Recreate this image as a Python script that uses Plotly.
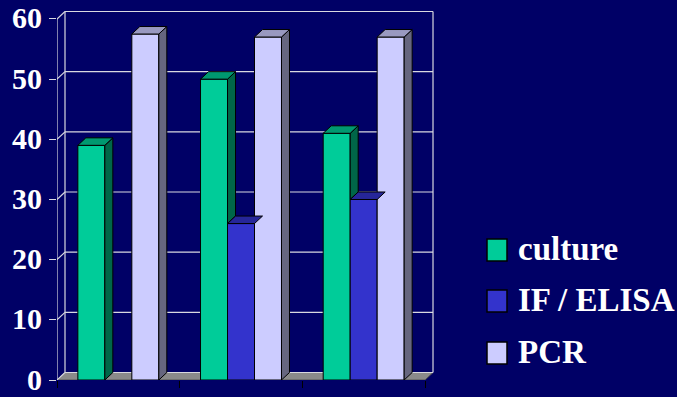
import plotly.graph_objects as go

# ---- data ----
groups = ["A", "B", "C"]
series_names = ["culture", "IF / ELISA", "PCR"]
culture = [39, 50, 41]
if_elisa = [None, 26, 30]
pcr = [57.5, 57, 57]
y_ticks = [0, 10, 20, 30, 40, 50, 60]

series = [culture, if_elisa, pcr]
front_colors = ["#00cc99", "#3333cc", "#ccccff"]
side_colors = ["#006648", "#1a1a73", "#66667f"]
top_colors = ["#009970", "#262699", "#9999c0"]
BG = "#000066"

# ---- geometry (pixels -> data) ----
W, H = 677, 397
L, T = 57, 10
PW, PH = 378, 370
px_per_x = 122.67
px_per_y = 6.017
x_lo = -0.5
x_hi = x_lo + PW / px_per_x
y_hi = PH / px_per_y
dx = 8 / px_per_x
dy = 7.5 / px_per_y
bw = 0.22

def bar_x0(gi, si):
    return gi + (si - 1.5) * bw

fig = go.Figure()

# front faces as bars
for si, (name, vals) in enumerate(zip(series_names, series)):
    fig.add_trace(go.Bar(
        x=list(range(len(groups))), y=vals, name=name,
        width=bw, offset=(si - 1.5) * bw,
        marker=dict(color=front_colors[si], line=dict(color="black", width=1)),
        showlegend=False, hoverinfo="skip",
    ))

# side and top faces (3D effect)
def val(si, gi):
    if si < 0 or si >= len(series):
        return None
    return series[si][gi]

for gi in range(len(groups)):
    for si in range(len(series)):
        v = val(si, gi)
        if v is None:
            continue
        x0 = bar_x0(gi, si)
        x1 = x0 + bw
        n = val(si + 1, gi) or 0
        if v > n:
            fig.add_trace(go.Scatter(
                x=[x1, x1 + dx, x1 + dx, x1, x1],
                y=[n, n + dy, v + dy, v, n],
                fill="toself", fillcolor=side_colors[si], mode="lines",
                line=dict(color="black", width=1), showlegend=False, hoverinfo="skip"))
        fig.add_trace(go.Scatter(
            x=[x0, x1, x1 + dx, x0 + dx, x0],
            y=[v, v, v + dy, v + dy, v],
            fill="toself", fillcolor=top_colors[si], mode="lines",
            line=dict(color="black", width=1), showlegend=False, hoverinfo="skip"))

shapes = []
grid = "#d8d8e0"
# floor
shapes.append(dict(type="path", layer="below", xref="x", yref="y",
                   path=f"M{x_lo},0 L2.5,0 L{2.5+dx},{dy} L{x_lo+dx},{dy} Z",
                   fillcolor="#8a8a8a", line=dict(color="#555555", width=1)))
for t in y_ticks:
    shapes.append(dict(type="line", layer="below", xref="x", yref="y",
                       x0=x_lo + dx, x1=2.5 + dx, y0=t + dy, y1=t + dy,
                       line=dict(color=grid, width=1.2)))
    shapes.append(dict(type="line", layer="below", xref="x", yref="y",
                       x0=x_lo, x1=x_lo + dx, y0=t, y1=t + dy,
                       line=dict(color=grid, width=1.2)))
for xx in (x_lo + dx, 2.5 + dx):
    shapes.append(dict(type="line", layer="below", xref="x", yref="y",
                       x0=xx, x1=xx, y0=dy, y1=60 + dy,
                       line=dict(color=grid, width=1.2)))
shapes.append(dict(type="line", layer="below", xref="x", yref="y",
                   x0=x_lo, x1=x_lo, y0=0, y1=60, line=dict(color=grid, width=1.2)))

# legend (custom, large swatches)
def px2paper(px, py):
    return (px - L) / PW, (T + PH - py) / PH

annotations = []
leg_y = [250, 301, 353]
for si, name in enumerate(series_names):
    xa, ya = px2paper(487, leg_y[si] - 11)
    xb, yb = px2paper(507, leg_y[si] + 11)
    shapes.append(dict(type="rect", xref="paper", yref="paper",
                       x0=xa, x1=xb, y0=yb, y1=ya,
                       fillcolor=front_colors[si], line=dict(color="black", width=1.5)))
    tx, ty = px2paper(516, leg_y[si] - 1)
    annotations.append(dict(xref="paper", yref="paper", x=tx, y=ty,
                            xanchor="left", yanchor="middle", showarrow=False,
                            text=name,
                            font=dict(family="Liberation Serif", size=33,
                                      color="white", weight="bold")))

fig.update_layout(
    width=W, height=H,
    margin=dict(l=L, r=W - L - PW, t=T, b=H - T - PH, pad=0, autoexpand=False),
    paper_bgcolor=BG, plot_bgcolor=BG,
    barmode="overlay", showlegend=False,
    shapes=shapes, annotations=annotations,
    xaxis=dict(range=[x_lo, x_hi], showgrid=False, zeroline=False, automargin=False,
               tickvals=[-0.5, 0.5, 1.5, 2.5], ticks="outside", ticklen=7,
               tickcolor="black", showticklabels=False, showline=False),
    yaxis=dict(range=[0, y_hi], showgrid=False, zeroline=False, automargin=False,
               tickvals=y_ticks, ticktext=[str(t) for t in y_ticks],
               ticks="outside", ticklen=7, tickcolor=grid, tickwidth=1.2,
               ticklabelstandoff=1, ticklabeloverflow="allow", ticklabelshift=-1,
               tickfont=dict(family="Liberation Serif", size=30, color="white",
                             weight="bold"),
               showline=False),
)

fig.write_html("out.html")
